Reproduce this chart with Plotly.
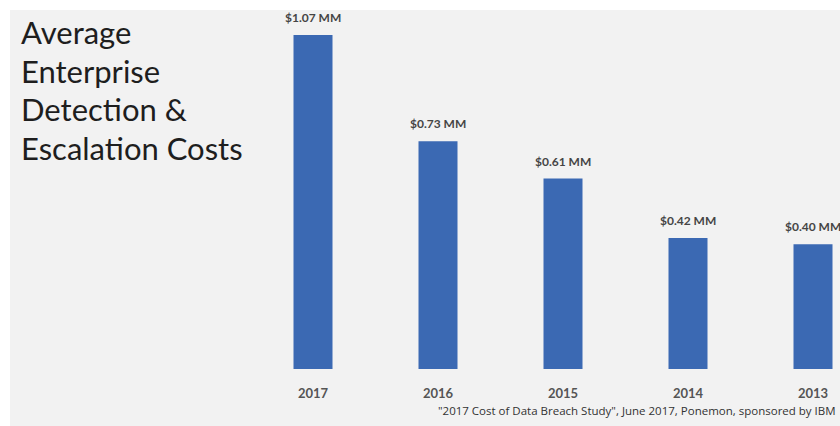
import plotly.graph_objects as go

years = ["2017", "2016", "2015", "2014", "2013"]
costs = [1.07, 0.73, 0.61, 0.42, 0.40]
labels = ["$1.07 MM", "$0.73 MM", "$0.61 MM", "$0.42 MM", "$0.40 MM"]
title_lines = ["Average", "Enterprise", "Detection &", "Escalation Costs"]
source = "\"2017 Cost of Data Breach Study\", June 2017, Ponemon, sponsored by IBM"

W, H = 840, 426
idx = list(range(len(years)))

fig = go.Figure()
fig.add_trace(go.Bar(
    x=idx, y=costs, width=0.312,
    marker=dict(color="#3b69b3", line=dict(width=0)),
    hoverinfo="skip",
))

annotations = []
for i, (v, lab) in enumerate(zip(costs, labels)):
    annotations.append(dict(
        x=i, y=v, xref="x", yref="y", text=f"<b>{lab}</b>", showarrow=False,
        yanchor="bottom", yshift=8,
        font=dict(family="Lato, sans-serif", size=12, color="#454545"),
    ))
for k, line in enumerate(title_lines):
    annotations.append(dict(
        x=19 / W, y=1 - (32 + 38.6 * k) / H, xref="paper", yref="paper",
        text=line, showarrow=False, xanchor="left", yanchor="middle",
        font=dict(family="Lato, sans-serif", size=31, color="#1e1e1e"),
    ))
annotations.append(dict(
    x=838 / W, y=1 - 410 / H, xref="paper", yref="paper", text=source,
    showarrow=False, xanchor="right", yanchor="middle",
    font=dict(family="Open Sans, sans-serif", size=11.5, color="#333333"),
))

fig.update_layout(
    width=W, height=H,
    margin=dict(l=0, r=0, t=0, b=0),
    paper_bgcolor="white", plot_bgcolor="rgba(0,0,0,0)",
    showlegend=False,
    shapes=[dict(type="rect", xref="paper", yref="paper", x0=10 / W, x1=1,
                 y0=0, y1=1 - 10 / H, fillcolor="#f2f2f2", line=dict(width=0),
                 layer="below")],
    xaxis=dict(range=[-313 / 125, (W - 313) / 125], showgrid=False, zeroline=False,
               showline=False, tickvals=idx, ticktext=[f"<b>{y}</b>" for y in years],
               ticks="", ticklabelstandoff=15,
               tickfont=dict(family="Lato, sans-serif", size=13, color="#555555")),
    yaxis=dict(domain=[(H - 369) / H, 1], range=[0, 369 * 1.07 / 334],
               visible=False),
    annotations=annotations,
)

fig.write_html("out.html")
